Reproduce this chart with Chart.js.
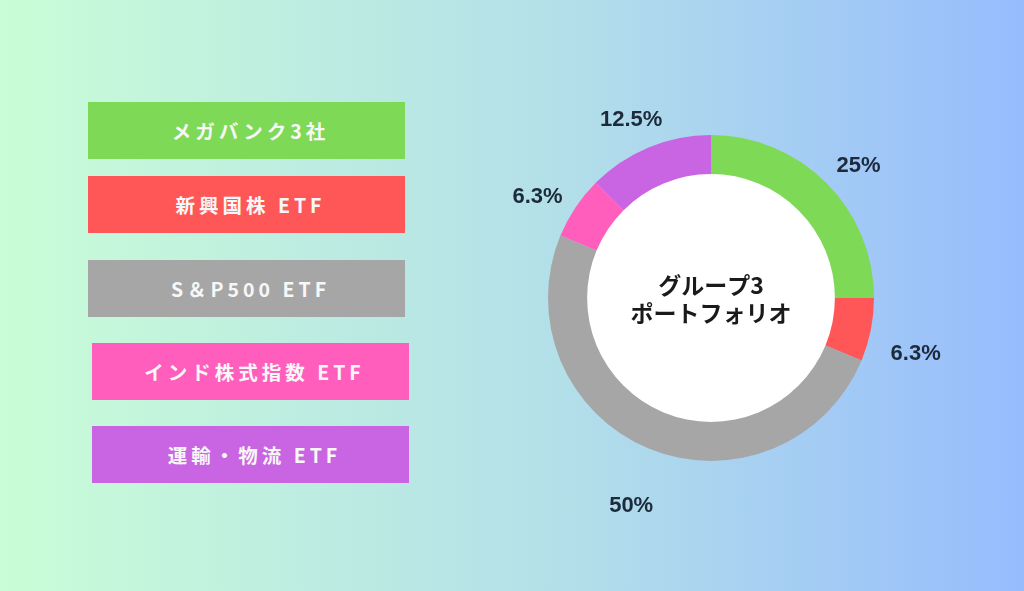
<!DOCTYPE html>
<html>
<head>
<meta charset="utf-8">
<script src="https://cdn.jsdelivr.net/npm/chart.js@4.4.1/dist/chart.umd.min.js"></script>
<style>
  html, body { margin:0; padding:0; }
  body {
    width:1024px; height:591px; overflow:hidden; position:relative;
    background: linear-gradient(90deg, #c9fdd7 0%, #b3dfe9 55%, #97bcfd 100%);
    font-family: "Noto Sans CJK JP", "Noto Sans", sans-serif;
  }
  .box {
    position:absolute; width:317px; height:57px;
    display:flex; align-items:center; justify-content:center;
    color:#f7f7f7; font-weight:bold; font-size:19.5px; letter-spacing:4px;
    padding-left:8px; box-sizing:border-box;
  }
  #wrap { position:absolute; left:461px; top:48px; width:500px; height:500px; }
</style>
</head>
<body>
<div id="legend"></div>
<div id="wrap"><canvas id="donut"></canvas></div>
<script>
// portfolio data
var labels = ["メガバンク3社", "新興国株 ETF", "S＆P500 ETF", "インド株式指数 ETF", "運輸・物流 ETF"];
var shares = [25, 6.25, 50, 6.25, 12.5];
var colors = ["#7ed957", "#ff5757", "#a6a6a6", "#ff5ebd", "#c964e2"];
var centerText = ["グループ3", "ポートフォリオ"];

// legend box positions (left, top)
var boxPos = [[88,102],[88,176],[88,260],[92,343],[92,426]];

var legend = document.getElementById("legend");
labels.forEach(function(l, i){
  var d = document.createElement("div");
  d.className = "box";
  d.style.left = boxPos[i][0] + "px";
  d.style.top = boxPos[i][1] + "px";
  d.style.background = colors[i];
  d.textContent = l;
  legend.appendChild(d);
});

var labelPlugin = {
  id: "pctLabels",
  afterDatasetsDraw: function(chart){
    var c = chart.ctx;
    var meta = chart.getDatasetMeta(0);
    c.save();
    c.font = "bold 22px 'Liberation Sans', Arial, sans-serif";
    c.fillStyle = "#1c2a3b";
    c.textAlign = "center";
    c.textBaseline = "middle";
    meta.data.forEach(function(arc, i){
      var p = arc.getProps(["x","y","startAngle","endAngle","outerRadius"], true);
      var mid = (p.startAngle + p.endAngle) / 2;
      var r = p.outerRadius * 1.28;
      var v = shares[i];
      c.fillText(Number(v.toFixed(1)) + "%", p.x + Math.cos(mid) * r, p.y + 15 + Math.sin(mid) * r);
    });
    // center text
    var a = meta.data[0];
    c.font = "bold 23px 'Noto Sans CJK JP', sans-serif";
    c.fillStyle = "#1a1a1a";
    c.fillText(centerText[0], a.x, a.y - 13);
    c.fillText(centerText[1], a.x, a.y + 15);
    c.restore();
  }
};

var innerFill = {
  id: "innerFill",
  beforeDatasetsDraw: function(chart){
    var a = chart.getDatasetMeta(0).data[0];
    var c = chart.ctx;
    c.save();
    c.fillStyle = "#ffffff";
    c.beginPath();
    c.arc(a.x, a.y, a.innerRadius + 1, 0, Math.PI * 2);
    c.fill();
    c.restore();
  }
};

var ctx = document.getElementById("donut");
var donut = new Chart(ctx, {
  type: 'doughnut',
  data: {
    labels: labels,
    datasets: [
      {
        data: shares,
        backgroundColor: colors,
        borderWidth: 0
      }
    ]
  },
  options: {
    responsive: true,
    maintainAspectRatio: false,
    animation: false,
    cutout: "76%",
    layout: { padding: 87 },
    plugins: {
      legend: { display: false },
      tooltip: { enabled: false }
    }
  },
  plugins: [innerFill, labelPlugin]
});
</script>
</body>
</html>
